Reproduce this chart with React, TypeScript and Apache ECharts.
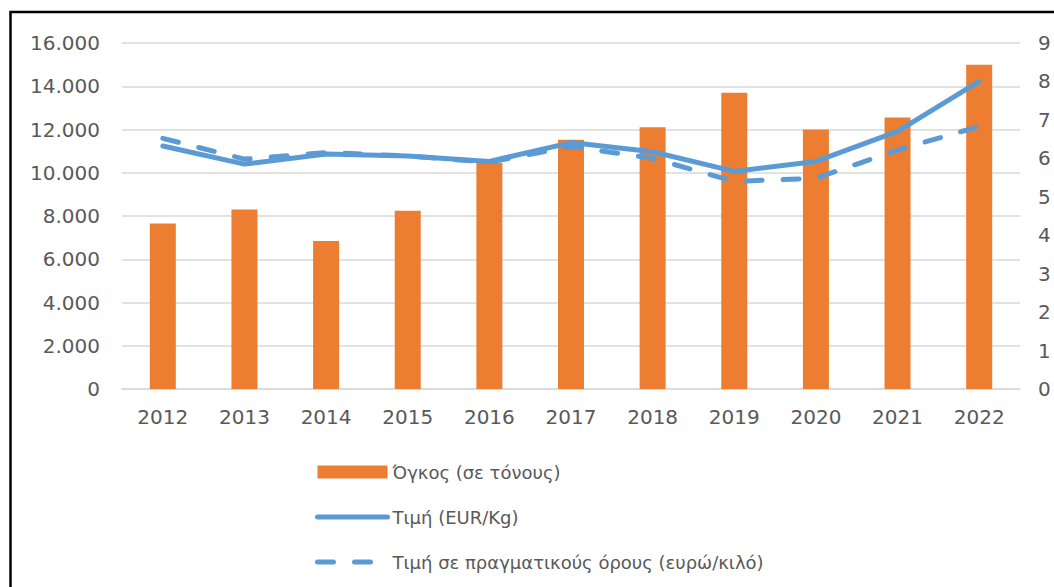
import React, { useEffect, useRef } from "react";
import * as echarts from "echarts";

const years = ["2012", "2013", "2014", "2015", "2016", "2017", "2018", "2019", "2020", "2021", "2022"];
const volume = [7650, 8300, 6840, 8240, 10450, 11530, 12100, 13700, 12000, 12550, 15000];
const price = [6.32, 5.85, 6.11, 6.06, 5.92, 6.41, 6.17, 5.66, 5.92, 6.7, 8.0];
const realPrice = [6.52, 5.98, 6.15, 6.06, 5.9, 6.31, 6.0, 5.4, 5.48, 6.22, 6.83];
const seriesNames = ["Όγκος (σε τόνους)", "Τιμή (EUR/Kg)", "Τιμή σε πραγματικούς όρους (ευρώ/κιλό)"];

const FONT = "DejaVu Sans";
const TXT = "#595959";
const BLUE = "#5B9BD5";
const ORANGE = "#ED7D31";

export default function App() {
  const ref = useRef<HTMLDivElement>(null);
  useEffect(() => {
    if (!ref.current) return;
    const chart = echarts.init(ref.current, null, { renderer: "svg" });
    chart.setOption({
      animation: false,
      backgroundColor: "#ffffff",
      textStyle: { fontFamily: FONT },
      graphic: [
        {
          type: "rect",
          shape: { x: 10.5, y: 12, width: 1200, height: 800 },
          style: { fill: "none", stroke: "#000000", lineWidth: 2.5 },
          silent: true,
          z: 100,
        },
      ],
      grid: { left: 122, right: 34, top: 43, bottom: 198, containLabel: false },
      legend: {
        orient: "vertical",
        left: 310,
        top: 458,
        itemWidth: 70,
        itemHeight: 13,
        itemGap: 27,
        textStyle: { color: TXT, fontSize: 18, fontFamily: FONT },
        data: [
          { name: seriesNames[0], icon: "rect" },
          {
            name: seriesNames[1],
            itemStyle: { opacity: 0 },
            lineStyle: { width: 5, color: BLUE, cap: "round" },
          },
          {
            name: seriesNames[2],
            itemStyle: { opacity: 0 },
            lineStyle: { width: 5, color: BLUE, type: [16, 21], cap: "round" },
          },
        ],
      },
      xAxis: {
        type: "category",
        data: years,
        axisLine: { show: true, lineStyle: { color: "#d9d9d9", width: 1.5 } },
        axisTick: { show: false },
        axisLabel: { color: TXT, fontSize: 20, fontFamily: FONT, margin: 18 },
      },
      yAxis: [
        {
          type: "value",
          min: 0,
          max: 16000,
          interval: 2000,
          axisLine: { show: false },
          axisTick: { show: false },
          splitLine: { lineStyle: { color: "#d9d9d9", width: 1.5 } },
          axisLabel: {
            color: TXT,
            fontSize: 20,
            fontFamily: FONT,
            margin: 22,
            formatter: (v: number) => (v === 0 ? "0" : v.toLocaleString("de-DE")),
          },
        },
        {
          type: "value",
          min: 0,
          max: 9,
          interval: 1,
          position: "right",
          axisLine: { show: false },
          axisTick: { show: false },
          splitLine: { show: false },
          axisLabel: { color: TXT, fontSize: 20, fontFamily: FONT, margin: 18 },
        },
      ],
      series: [
        {
          name: seriesNames[0],
          type: "bar",
          data: volume,
          barWidth: 26,
          itemStyle: { color: ORANGE },
          yAxisIndex: 0,
        },
        {
          name: seriesNames[1],
          type: "line",
          data: price,
          yAxisIndex: 1,
          symbol: "none",
          lineStyle: { color: BLUE, width: 5, cap: "round", join: "round" },
          itemStyle: { color: BLUE },
          z: 3,
        },
        {
          name: seriesNames[2],
          type: "line",
          data: realPrice,
          yAxisIndex: 1,
          symbol: "none",
          lineStyle: { color: BLUE, width: 5, type: [16, 21], cap: "round", join: "round" },
          itemStyle: { color: BLUE },
          z: 3,
        },
      ],
    });
    return () => chart.dispose();
  }, []);
  return (
    <div
      ref={ref}
      style={{ position: "fixed", left: 0, top: 0, width: 1054, height: 587, background: "#fff" }}
    />
  );
}
